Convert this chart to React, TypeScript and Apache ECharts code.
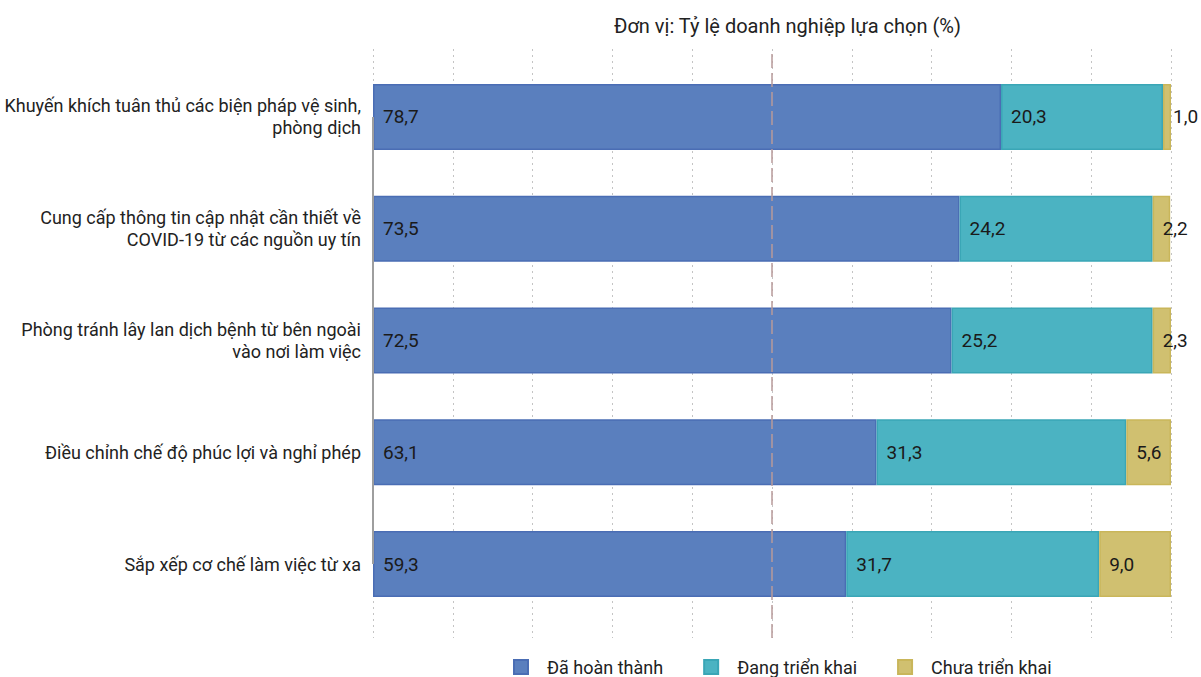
import React, { useEffect, useRef } from "react";
import * as echarts from "echarts";

const categories = [
  "Khuyến khích tuân thủ các biện pháp vệ sinh,\nphòng dịch",
  "Cung cấp thông tin cập nhật cần thiết về\nCOVID-19 từ các nguồn uy tín",
  "Phòng tránh lây lan dịch bệnh từ bên ngoài\nvào nơi làm việc",
  "Điều chỉnh chế độ phúc lợi và nghỉ phép",
  "Sắp xếp cơ chế làm việc từ xa",
];
const done = [78.7, 73.5, 72.5, 63.1, 59.3];
const ongoing = [20.3, 24.2, 25.2, 31.3, 31.7];
const notYet = [1.0, 2.2, 2.3, 5.6, 9.0];
const seriesNames = ["Đã hoàn thành", "Đang triển khai", "Chưa triển khai"];
const title = "Đơn vị: Tỷ lệ doanh nghiệp lựa chọn (%)";

const fills = ["#5A7FBE", "#4BB3C2", "#D0C070"];
const borders = ["#4A6DB4", "#3AA6B6", "#C9B65A"];

const fmt = (p: any) => Number(p.value).toFixed(1).replace(".", ",");

export default function App() {
  const ref = useRef<HTMLDivElement>(null);
  useEffect(() => {
    if (!ref.current) return;
    const chart = echarts.init(ref.current, undefined, { renderer: "svg" });
    const mkBar = (name: string, data: number[], i: number) => ({
      name,
      type: "bar",
      stack: "total",
      xAxisIndex: 0,
      yAxisIndex: 0,
      barWidth: 66,
      z: 3,
      data,
      itemStyle: { color: fills[i], borderColor: borders[i], borderWidth: 1.5 },
      label: {
        show: true,
        position: "insideLeft",
        distance: 10,
        formatter: fmt,
        color: "#1a1a1a",
        fontSize: 19,
        fontFamily: "Roboto",
      },
      emphasis: { disabled: true },
    });
    const first: any = mkBar(seriesNames[0], done, 0);
    first.markLine = {
      silent: true,
      symbol: "none",
      z: 5,
      label: { show: false },
      lineStyle: { color: "#9e9e9e", width: 2, type: "solid" },
      data: [[{ coord: [0, categories[0]] }, { coord: [0, categories[categories.length - 1]] }]],
    };
    chart.setOption({
      animation: false,
      title: {
        text: title,
        left: 609,
        top: 11,
        textStyle: { fontSize: 20, fontWeight: "normal", color: "#222", fontFamily: "Roboto" },
      },
      legend: {
        data: seriesNames,
        left: 508,
        top: 653,
        itemWidth: 14,
        itemHeight: 14,
        itemGap: 40,
        icon: "rect",
        textStyle: { fontSize: 18, color: "#222", fontFamily: "Roboto", padding: [0, 0, 0, 14] },
      },
      grid: [
        { left: 373, right: 30, top: 61, bottom: 57 },
        { left: 373, right: 30, top: 49, bottom: 39 },
      ],
      xAxis: [
        {
          type: "value",
          gridIndex: 0,
          min: 0,
          max: 100,
          interval: 10,
          axisLabel: { show: false },
          axisLine: { show: false },
          axisTick: { show: false },
          splitLine: { show: false },
        },
        {
          type: "value",
          gridIndex: 1,
          min: 0,
          max: 100,
          interval: 10,
          axisLabel: { show: false },
          axisLine: { show: false },
          axisTick: { show: false },
          splitLine: { show: true, lineStyle: { color: "#c4c4c4", type: [2, 4], width: 1 } },
        },
      ],
      yAxis: [
        {
          type: "category",
          gridIndex: 0,
          data: categories,
          inverse: true,
          axisLine: { show: false },
          axisTick: { show: false },
          axisLabel: {
            margin: 12,
            fontSize: 18,
            lineHeight: 22,
            color: "#222",
            fontFamily: "Roboto",
            align: "right",
          },
        },
        {
          type: "value",
          gridIndex: 1,
          min: 0,
          max: 1,
          show: false,
          splitLine: { show: false },
        },
      ],
      series: [
        first,
        mkBar(seriesNames[1], ongoing, 1),
        mkBar(seriesNames[2], notYet, 2),
        {
          type: "line",
          xAxisIndex: 1,
          yAxisIndex: 1,
          data: [],
          z: 1,
          silent: true,
          markLine: {
            silent: true,
            symbol: "none",
            label: { show: false },
            lineStyle: { color: "#b89a9a", width: 1.5, type: [14, 5] },
            data: [{ xAxis: 50 }],
          },
        },
      ],
    });
    return () => chart.dispose();
  }, []);
  return (
    <div
      ref={ref}
      style={{ position: "absolute", left: 0, top: 0, width: 1201, height: 677, background: "#fff" }}
    />
  );
}
